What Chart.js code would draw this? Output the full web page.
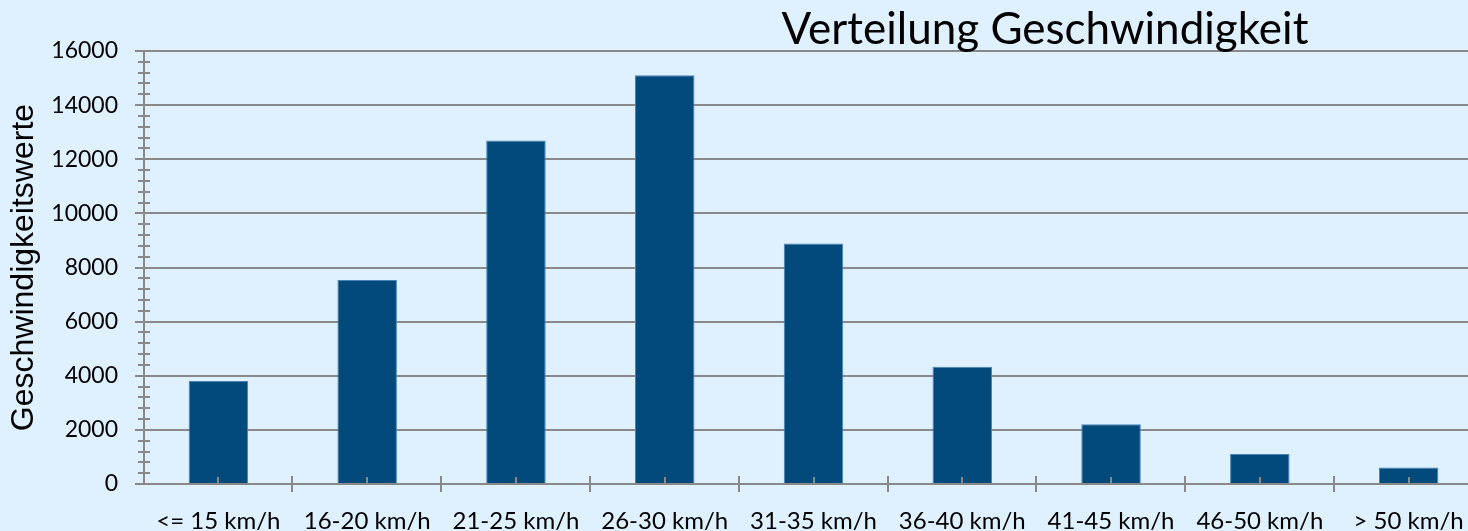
<!DOCTYPE html>
<html>
<head>
<meta charset="utf-8">
<script src="https://cdn.jsdelivr.net/npm/chart.js@4.4.1/dist/chart.umd.min.js"></script>
<style>
  html, body { margin: 0; padding: 0; background: #dff0fe; overflow: hidden; }
  #wrap { position: absolute; left: 0; top: 0; width: 1500px; height: 531px; }
</style>
</head>
<body>
<div id="wrap"><canvas id="grafica" width="1500" height="531"></canvas></div>
<script>
const kategorien = ["<= 15 km/h", "16-20 km/h", "21-25 km/h", "26-30 km/h", "31-35 km/h", "36-40 km/h", "41-45 km/h", "46-50 km/h", "> 50 km/h"]
const werte = [3810, 7540, 12690, 15100, 8890, 4330, 2210, 1110, 610]
const titel = "Verteilung Geschwindigkeit"
const achsenTitel = "Geschwindigkeitswerte"
const yMax = 16000
const ySchritt = 2000
const yNebenSchritt = 400

const linienFarbe = "#898989"
const balkenFarbe = "#02497c"

// Titel + Nebenstriche selbst zeichnen
const extraZeichnen = {
  id: "extraZeichnen",
  afterDraw(chart) {
    const ctx = chart.ctx
    const x = chart.scales.x
    const y = chart.scales.y
    const achse = chart.chartArea.left
    ctx.save()
    ctx.strokeStyle = linienFarbe
    ctx.lineWidth = 2
    // kleine Striche an der y-Achse
    for (let v = 0; v <= yMax; v += yNebenSchritt) {
      if (v % ySchritt === 0) continue
      const py = Math.round(y.getPixelForValue(v))
      ctx.beginPath()
      ctx.moveTo(achse - 6, py)
      ctx.lineTo(achse + 6, py)
      ctx.stroke()
    }
    // Striche an der x-Achse
    const boden = chart.chartArea.bottom
    const breite = x.getPixelForValue(1) - x.getPixelForValue(0)
    for (let i = 0; i < kategorien.length; i++) {
      const mitte = Math.round(x.getPixelForValue(i))
      ctx.beginPath()
      ctx.moveTo(mitte, boden - 7)
      ctx.lineTo(mitte, boden)
      ctx.stroke()
      const grenze = Math.round(mitte + breite / 2)
      ctx.beginPath()
      ctx.moveTo(grenze, boden - 8)
      ctx.lineTo(grenze, boden + 8)
      ctx.stroke()
    }
    // Titel
    ctx.fillStyle = "#000"
    ctx.font = "44px Lato"
    ctx.textAlign = "center"
    ctx.textBaseline = "alphabetic"
    ctx.fillText(titel, 1045, 44)
    ctx.restore()
  }
}

const config = {
  type: "bar",
  data: {
    labels: kategorien,
    datasets: [
      {
        data: werte,
        backgroundColor: balkenFarbe,
        borderColor: "#4a82b6",
        borderWidth: 1,
        categoryPercentage: 1,
        barPercentage: 0.4
      }
    ]
  },
  options: {
    responsive: false,
    animation: false,
    devicePixelRatio: 1,
    layout: { padding: { top: 51, right: 17, left: 0, bottom: 0 } },
    plugins: {
      legend: { display: false },
      tooltip: { enabled: false },
      title: { display: false }
    },
    scales: {
      x: {
        grid: { display: false },
        border: { display: true, color: linienFarbe, width: 2 },
        ticks: {
          color: "#000",
          font: { family: "Lato", size: 24 },
          padding: 15,
          maxRotation: 0,
          autoSkip: false
        },
        afterFit(scale) { scale.height = 47 }
      },
      y: {
        min: 0,
        max: yMax,
        ticks: {
          stepSize: ySchritt,
          color: "#000",
          font: { family: "Lato", size: 23 },
          padding: 17,
          callback: (wert) => String(wert)
        },
        grid: { color: linienFarbe, lineWidth: 2, tickLength: 9 },
        border: { display: true, color: linienFarbe, width: 2 },
        title: {
          display: true,
          text: achsenTitel,
          color: "#000",
          font: { family: "Liberation Sans", size: 32 },
          padding: { top: 5, bottom: 0 }
        },
        afterFit(scale) { scale.width = 144 }
      }
    }
  },
  plugins: [extraZeichnen]
}

new Chart(document.getElementById("grafica"), config)
</script>
</body>
</html>
